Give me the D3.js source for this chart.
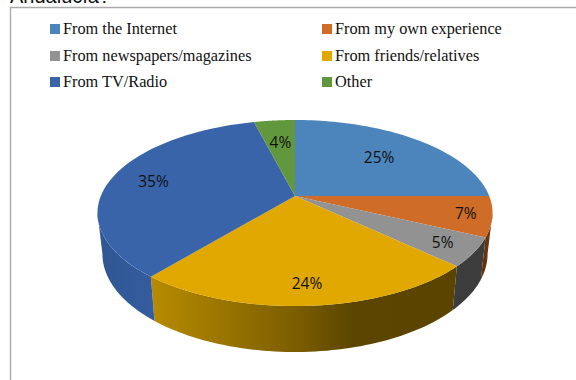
<!DOCTYPE html>
<html>
<head>
<meta charset="utf-8">
<script src="https://cdn.jsdelivr.net/npm/d3@7"></script>
<style>
  html, body { margin: 0; padding: 0; background: #fff; overflow: hidden; }
  svg { display: block; }
</style>
</head>
<body>
<script>
// Sources of information, share of respondents in percent.
const categories = ["From the Internet", "From my own experience", "From newspapers/magazines",
                    "From friends/relatives", "From TV/Radio", "Other"];
const shares = [25, 7, 5, 24, 35, 4];
const topColors = ["#4c85bc", "#cf6c28", "#929292", "#e0a800", "#3a64aa", "#62983d"];
const legendOrder = [0, 1, 2, 3, 4, 5];
const chartHeading = "Andalucía?";

const width = 576, height = 380;

// Perspective tilted-disc projection of the pie.
const cx = 295, cy = 196;        // apex on the screen
const ax = 194.2, by = 89.9;     // disc semi-axes before foreshortening
const k = 0.183;                 // foreshortening strength
const drop = 39.8;               // disc thickness
const lowerScale = 0.975;        // lower rim sits slightly further from the eye

function project(angle, r, lower) {
  const s = lower ? lowerScale : 1;
  const x = r * Math.sin(angle), y = -r * Math.cos(angle);
  const w = 1 - k * y;
  return [cx + s * ax * x / w, cy + (s * by * y + (lower ? drop : 0)) / w];
}

const svg = d3.select("body").append("svg").attr("width", width).attr("height", height);
const defs = svg.append("defs");

// Heading cut off by the top of the page.
svg.append("text")
  .attr("x", 10).attr("y", 3)
  .attr("font-family", "Liberation Sans").attr("font-size", 20)
  .attr("fill", "#111").text(chartHeading);

// Chart frame: only its top and left edges are in view.
svg.append("path")
  .attr("d", d3.line()([[width, 7.5], [10.5, 7.5], [10.5, height]]))
  .attr("fill", "none").attr("stroke", "#ababab").attr("stroke-width", 1.4);

// Legend in two columns, filled row by row.
const legendX = d3.scaleOrdinal().domain([0, 1]).range([50, 322]);
const legendY = d3.scaleOrdinal().domain([0, 1, 2]).range([24, 51, 77]);
const legend = svg.append("g").selectAll("g").data(legendOrder).join("g")
  .attr("transform", i => `translate(${legendX(i % 2)},${legendY(Math.floor(i / 2))})`);
legend.append("rect").attr("width", 10).attr("height", 10).attr("fill", i => topColors[i]);
legend.append("text")
  .attr("x", 13).attr("y", 10)
  .attr("font-family", "Liberation Serif").attr("font-size", 16.3)
  .attr("fill", "#111").text(i => categories[i]);

const arcs = d3.pie().sort(null)(shares);
const line = d3.line();
const samples = (a0, a1) => d3.range(0, 61).map(i => a0 + (a1 - a0) * i / 60);

// The wall is visible between the two silhouette angles of the disc.
const frontStart = Math.PI - Math.asin(Math.sqrt(1 - k * k)) ;
const frontEnd = 2 * Math.PI - frontStart;

// Wall shading for each slice, running left to right across the screen.
const wallStops = [
  null,
  [[0, "#5f2f0e"], [1, "#74380f"]],
  [[0, "#3c3c3c"], [1, "#3c3c3c"]],
  [[0, "#b78b00"], [0.48, "#7b5d00"], [0.66, "#5b4500"], [1, "#5a4400"]],
  [[0, "#2f5692"], [1, "#355d9f"]],
  null
];

arcs.forEach((d, i) => {
  const a0 = Math.max(d.startAngle, frontStart), a1 = Math.min(d.endAngle, frontEnd);
  if (a1 <= a0 || !wallStops[i]) return;
  const upper = samples(a0, a1).map(a => project(a, 1, false));
  const lower = samples(a0, a1).map(a => project(a, 1, true)).reverse();
  const xs = upper.concat(lower).map(p => p[0]);
  const grad = defs.append("linearGradient").attr("id", "wall" + i)
    .attr("gradientUnits", "userSpaceOnUse")
    .attr("x1", d3.min(xs)).attr("x2", d3.max(xs)).attr("y1", 0).attr("y2", 0);
  wallStops[i].forEach(s => grad.append("stop").attr("offset", s[0]).attr("stop-color", s[1]));
  svg.append("path")
    .attr("d", line(upper.concat(lower)) + "Z")
    .attr("fill", `url(#wall${i})`);
});

// Top face of the pie.
svg.append("g").selectAll("path").data(arcs).join("path")
  .attr("d", d => line([[cx, cy]].concat(samples(d.startAngle, d.endAngle).map(a => project(a, 1, false)))) + "Z")
  .attr("fill", (d, i) => topColors[i]);

// Percent labels, placed along each slice's middle angle.
const labelRadii = [0.665, 0.87, 0.84, 0.83, 0.77, 0.67];
svg.append("g").selectAll("text").data(arcs).join("text")
  .attr("transform", (d, i) => {
    const p = project((d.startAngle + d.endAngle) / 2, labelRadii[i], false);
    return `translate(${p[0]},${p[1]})`;
  })
  .attr("text-anchor", "middle").attr("dy", "0.36em")
  .attr("font-family", "Open Sans").attr("font-size", 15.5)
  .attr("fill", "#111").text(d => d.data + "%");
</script>
</body>
</html>
